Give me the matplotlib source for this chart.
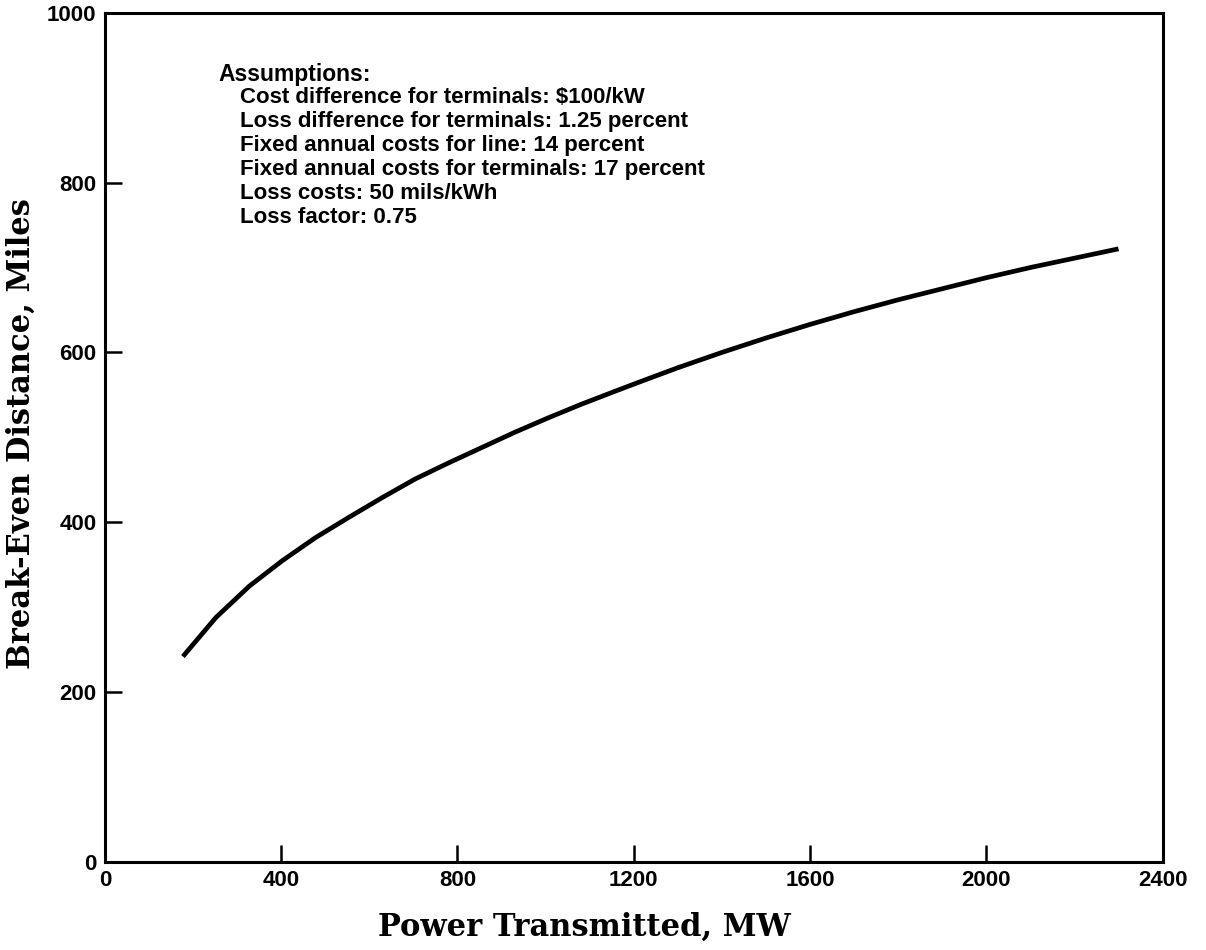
import matplotlib
matplotlib.use("Agg")
import matplotlib.pyplot as plt

# ===== data =====
power_mw = [177, 252, 328, 403, 478, 554, 629, 704, 780, 855, 930, 1006, 1081,
            1156, 1217, 1300, 1400, 1500, 1600, 1700, 1800, 1900, 2000, 2100,
            2200, 2300]
distance_mi = [242, 288, 325, 355, 382, 406, 429, 451, 470, 488, 506, 523, 539,
               554, 566, 582, 600, 617, 633, 648, 662, 675, 688, 700, 711, 722]

x_ticks = [0, 400, 800, 1200, 1600, 2000, 2400]
y_ticks = [0, 200, 400, 600, 800, 1000]

assumptions = [
    "Cost difference for terminals: $100/kW",
    "Loss difference for terminals: 1.25 percent",
    "Fixed annual costs for line: 14 percent",
    "Fixed annual costs for terminals: 17 percent",
    "Loss costs: 50 mils/kWh",
    "Loss factor: 0.75",
]

SANS = ["Liberation Sans", "DejaVu Sans"]
SERIF = ["DejaVu Serif"]

fig = plt.figure(figsize=(12.06, 9.5), dpi=100)
ax = fig.add_axes([0.087, 0.0926, 0.877, 0.894])

ax.plot(power_mw, distance_mi, color="black", lw=3.4,
        solid_capstyle="butt", solid_joinstyle="round")

ax.set_xlim(0, 2400)
ax.set_ylim(0, 1000)
ax.set_xticks(x_ticks)
ax.set_yticks(y_ticks)
ax.tick_params(direction="in", length=12, width=1.8, pad=6, labelsize=16)
for lab in ax.get_xticklabels() + ax.get_yticklabels():
    lab.set_fontfamily(SANS)
    lab.set_fontweight("bold")

for sp in ax.spines.values():
    sp.set_linewidth(2.2)

ax.set_xlabel("Power Transmitted, MW", family=SERIF, fontweight="bold",
              fontsize=22)
ax.set_ylabel("Break-Even Distance, Miles", family=SERIF, fontweight="bold",
              fontsize=22)
ax.xaxis.set_label_coords(0.453, -0.058)
ax.yaxis.set_label_coords(-0.064, 0.504)

# assumptions block
ax.text(0.107, 0.927, "Assumptions:", transform=ax.transAxes, family=SANS,
        fontweight="bold", fontsize=16.5, va="center", ha="left")
y0 = 0.900
for i, line in enumerate(assumptions):
    ax.text(0.128, y0 - i * 0.0282, line, transform=ax.transAxes, family=SANS,
            fontweight="bold", fontsize=16, va="center", ha="left")

fig.savefig("out.png", dpi=100)
